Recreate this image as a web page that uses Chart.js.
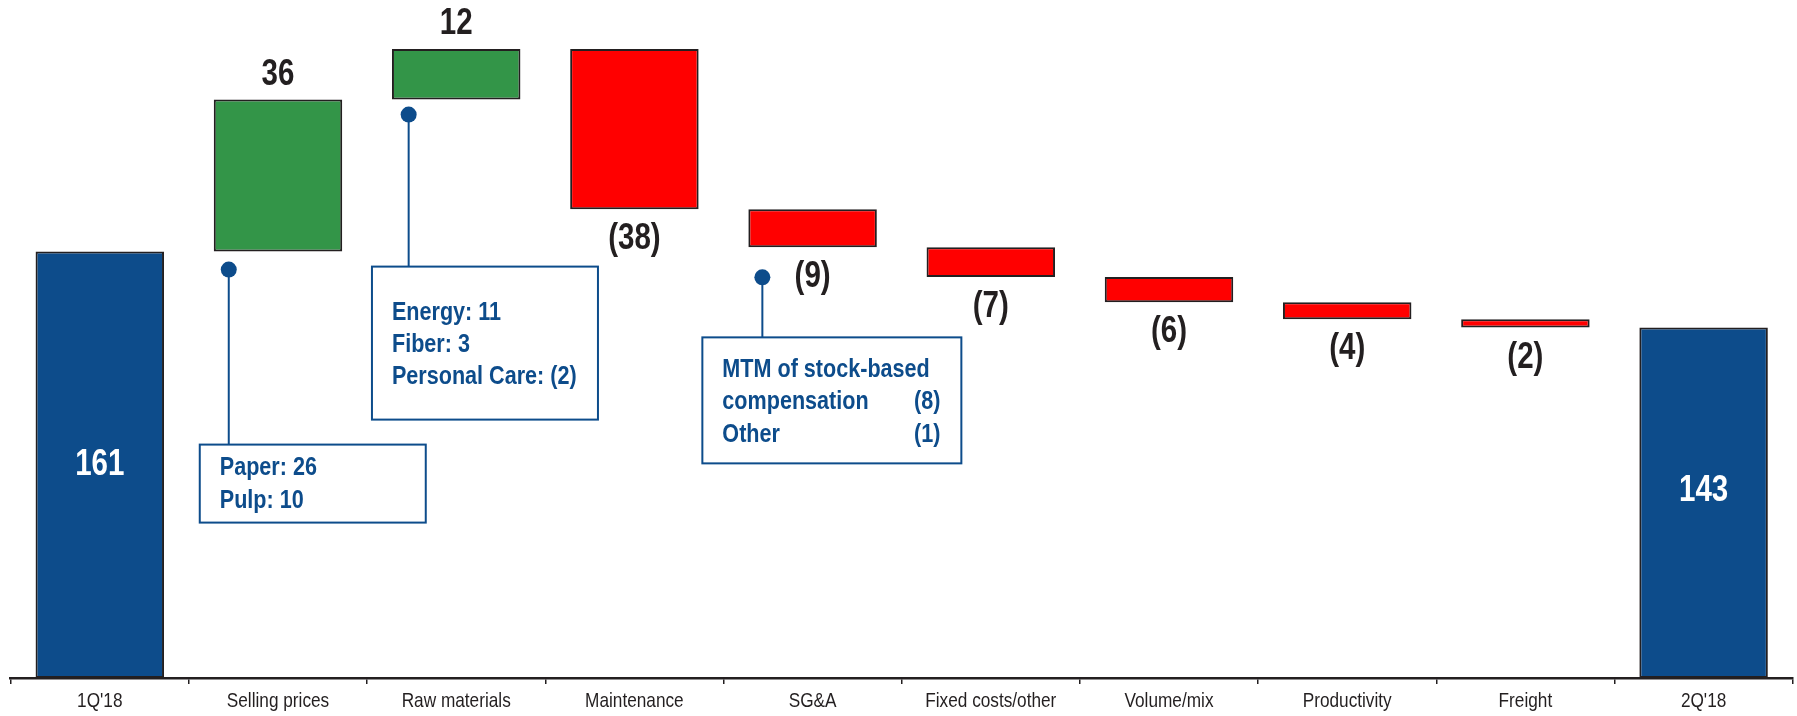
<!DOCTYPE html>
<html><head><meta charset="utf-8">
<style>html,body{margin:0;padding:0;background:#fff;overflow:hidden}#wrap{width:1797px;height:716px;position:relative}</style>
<script src="https://cdn.jsdelivr.net/npm/chart.js@4.4.1/dist/chart.umd.min.js"></script>
</head><body><div id="wrap"><canvas id="c" width="1797" height="716" style="width:1797px;height:716px"></canvas></div>
<script>
const categories = ["1Q'18","Selling prices","Raw materials","Maintenance","SG&A","Fixed costs/other","Volume/mix","Productivity","Freight","2Q'18"];
const changes = [161, 36, 12, -38, -9, -7, -6, -4, -2, 143];
const isTotal = [true, false, false, false, false, false, false, false, false, true];
const axisMin = 60;
const axisMax = 220;
const sellingPricesDetail = ["Paper: 26", "Pulp: 10"];
const rawMaterialsDetail = ["Energy: 11", "Fiber: 3", "Personal Care: (2)"];
const sgaDetailNames = ["MTM of stock-based", "compensation", "Other"];
const sgaDetailValues = ["", "(8)", "(1)"];

const BLUE = '#0D4C8B', GREEN = '#339548', RED = '#FF0000', INK = '#231F20';
const FAM = "'Liberation Sans', Arial, sans-serif";

const ranges = [];
let run = 0;
changes.forEach((v, i) => {
  if (isTotal[i]) { ranges.push([axisMin, v]); run = v; }
  else { ranges.push([run, run + v]); run += v; }
});
const colors = changes.map((v, i) => isTotal[i] ? BLUE : (v >= 0 ? GREEN : RED));
const labelText = changes.map(v => v >= 0 ? String(v) : '(' + Math.abs(v) + ')');

function narrowText(ctx, text, x, y, font, color, align, sx) {
  ctx.save();
  ctx.font = font;
  ctx.fillStyle = color;
  ctx.textAlign = align;
  ctx.textBaseline = 'middle';
  ctx.translate(x, y);
  ctx.scale(sx, 1);
  ctx.fillText(text, 0, 0);
  ctx.restore();
}

const labelPlugin = {
  id: 'wfLabels',
  afterDatasetsDraw(chart) {
    const ctx = chart.ctx;
    const meta = chart.getDatasetMeta(0);
    const xs = chart.scales.x;
    const valFont = 'bold 36px ' + FAM;
    ctx.save();
    meta.data.forEach((el, i) => {
      const top = Math.min(el.y, el.base), bottom = Math.max(el.y, el.base);
      if (isTotal[i]) {
        narrowText(ctx, labelText[i], el.x, (top + bottom) / 2 - (i === 0 ? 0 : 12), valFont, '#FFFFFF', 'center', 0.82);
      } else if (changes[i] >= 0) {
        narrowText(ctx, labelText[i], el.x, top - 25, valFont, INK, 'center', 0.82);
      } else {
        narrowText(ctx, labelText[i], el.x, bottom + 30, valFont, INK, 'center', 0.82);
      }
    });
    categories.forEach((c, i) => {
      narrowText(ctx, c, xs.getPixelForValue(i), chart.chartArea.bottom + 23, '21px ' + FAM, INK, 'center', 0.82);
    });

    function callout(idx, dotDx, dotDy, boxDx, boxDy, boxW, boxH, lines, firstLine, lineGap, values, valueRight) {
      const el = meta.data[idx];
      const left = el.x - el.width / 2;
      const bottom = Math.max(el.y, el.base);
      const dx = left + dotDx, dy = bottom + dotDy;
      const bx = left + boxDx, by = bottom + boxDy;
      ctx.strokeStyle = BLUE; ctx.fillStyle = BLUE; ctx.lineWidth = 2;
      ctx.beginPath(); ctx.moveTo(dx, dy); ctx.lineTo(dx, by); ctx.stroke();
      ctx.beginPath(); ctx.arc(dx, dy, 8, 0, Math.PI * 2); ctx.fill();
      ctx.fillStyle = '#FFFFFF';
      ctx.fillRect(bx, by, boxW, boxH);
      ctx.strokeRect(bx, by, boxW, boxH);
      const f = 'bold 26px ' + FAM;
      lines.forEach((t, k) => {
        const ty = by + firstLine + k * lineGap;
        narrowText(ctx, t, bx + 20, ty, f, BLUE, 'left', 0.83);
        if (values && values[k]) narrowText(ctx, values[k], bx + valueRight, ty, f, BLUE, 'right', 0.83);
      });
    }
    callout(1, 15, 18, -14, 193, 226, 78, sellingPricesDetail, 23, 33);
    callout(2, 16.7, 15, -20, 167, 226, 153, rawMaterialsDetail, 46, 32);
    callout(4, 14, 30, -46, 90, 259, 126, sgaDetailNames, 32, 32.5, sgaDetailValues, 238);
    ctx.restore();
  }
};

new Chart(document.getElementById('c'), {
  type: 'bar',
  data: {
    labels: categories,
    datasets: [{
      data: ranges,
      backgroundColor: colors,
      borderColor: INK,
      borderWidth: 2,
      borderSkipped: false,
      barPercentage: 0.721,
      categoryPercentage: 1.0
    }]
  },
  options: {
    responsive: false,
    animation: false,
    maintainAspectRatio: false,
    devicePixelRatio: 1,
    layout: { padding: { top: 2.5, left: 10.7, right: 4.3, bottom: 0 } },
    plugins: { legend: { display: false }, tooltip: { enabled: false } },
    scales: {
      x: {
        offset: true,
        grid: { offset: true, drawOnChartArea: false, drawTicks: true, tickLength: 6, color: INK, lineWidth: 1.5 },
        border: { display: true, color: INK, width: 2.5 },
        ticks: { color: 'rgba(0,0,0,0)', font: { family: FAM, size: 21 }, padding: 4, maxRotation: 0, autoSkip: false },
        afterFit(s) { s.height = 38; }
      },
      y: { display: false, min: axisMin, max: axisMax }
    }
  },
  plugins: [labelPlugin]
});
</script>
</body></html>
